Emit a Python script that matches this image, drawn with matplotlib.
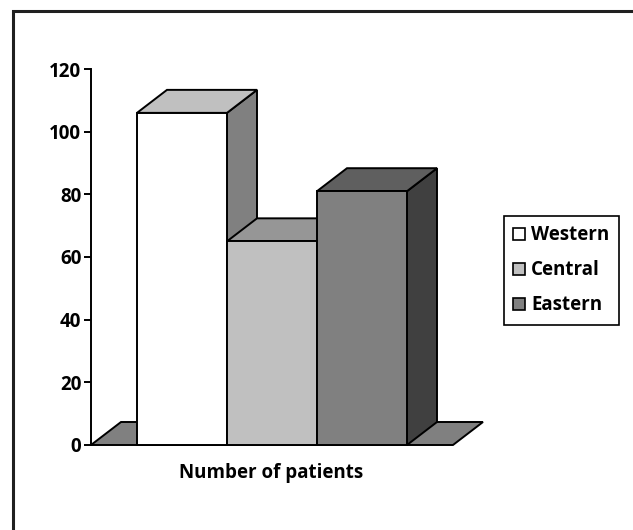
import matplotlib
matplotlib.use("Agg")
import matplotlib.pyplot as plt
from matplotlib.patches import Polygon, Patch, Rectangle

# Data
regions = ["Western", "Central", "Eastern"]
patients = [106, 65, 81]
y_ticks = [0, 20, 40, 60, 80, 100, 120]
axis_label = "Number of patients"

# Face colours: front, top, side
front_colors = ["#ffffff", "#c0c0c0", "#808080"]
top_colors = ["#c0c0c0", "#969696", "#5f5f5f"]
side_colors = ["#808080", "#6e6e6e", "#404040"]
floor_color = "#808080"

plt.rcParams["font.family"] = ["Open Sans", "DejaVu Sans"]
plt.rcParams["font.weight"] = "bold"
FS = 13.5

W, H = 633, 530
fig = plt.figure(figsize=(W / 100, H / 100), dpi=100)

# axes in pixel terms: y=0 at 445 px, y=120 at 69 px, spine at x=91
ax = fig.add_axes([91 / W, (H - 445) / H, 392 / W, 376 / H])
bar_w = 1.0
dx = 1 / 3          # depth offset in x units
dy = 7.34           # depth offset in value units
x0 = 0.511          # gap between axis and first bar
ax.set_xlim(0, 392 / 90)
ax.set_ylim(0, 120)


def poly(pts, color, z):
    p = Polygon(pts, closed=True, facecolor=color, edgecolor="black",
                linewidth=1.4, joinstyle="miter", clip_on=False, zorder=z)
    ax.add_patch(p)


# floor
floor_right = x0 * 2 + bar_w * len(regions)
poly([(0, 0), (floor_right, 0), (floor_right + dx, dy), (dx, dy)], floor_color, 1)

# bars, left to right so later ones overlap earlier side faces
for i, (val, fc, tc, sc) in enumerate(zip(patients, front_colors, top_colors, side_colors)):
    l = x0 + i * bar_w
    r = l + bar_w
    z = 2 + i
    poly([(r, 0), (r + dx, dy), (r + dx, val + dy), (r, val)], sc, z)
    poly([(l, val), (r, val), (r + dx, val + dy), (l + dx, val + dy)], tc, z)
    poly([(l, 0), (r, 0), (r, val), (l, val)], fc, z)

for s in ["top", "right", "bottom"]:
    ax.spines[s].set_visible(False)
ax.spines["left"].set_linewidth(1.4)
ax.spines["left"].set_zorder(10)
ax.set_yticks(y_ticks)
ax.set_yticklabels([str(t) for t in y_ticks], fontsize=FS, fontweight="bold")
ax.tick_params(axis="y", direction="out", length=5, width=1.4, pad=2)
ax.set_xticks([])
ax.patch.set_visible(False)

fig.text(271 / W, 1 - 473 / H, axis_label, ha="center", va="center",
         fontsize=FS, fontweight="bold")

handles = [Patch(facecolor=c, edgecolor="black", linewidth=1.2) for c in front_colors]
leg = fig.legend(handles, regions, loc="upper left",
                 bbox_to_anchor=(504 / W, 1 - 216 / H), bbox_transform=fig.transFigure,
                 fancybox=False, edgecolor="black", framealpha=1,
                 prop={"size": FS, "weight": "bold"},
                 handlelength=0.6, handleheight=0.6, handletextpad=0.35,
                 labelspacing=0.8, borderpad=0.5, borderaxespad=0)
leg.get_frame().set_linewidth(1.2)

# outer frame of the chart area, running past the right and bottom edges
fig.patches.append(Rectangle((13 / W, -0.1), 1.2, 1.1 - 11 / H,
                             transform=fig.transFigure, fill=False,
                             edgecolor="#202020", linewidth=2.2, zorder=0))

fig.savefig("out.png", dpi=100, facecolor="white")
